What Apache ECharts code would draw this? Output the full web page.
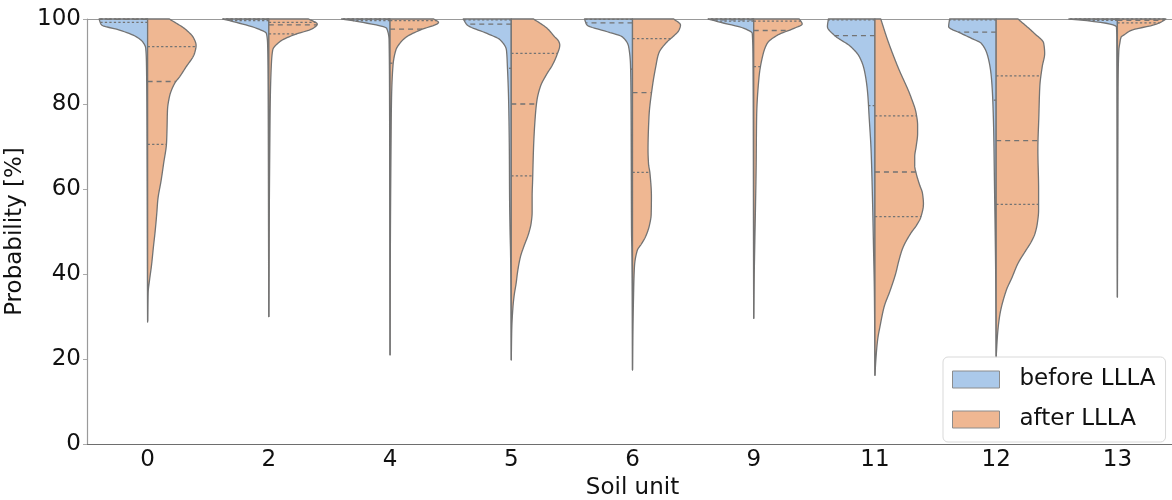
<!DOCTYPE html>
<html>
<head>
<meta charset="utf-8">
<script src="https://cdn.jsdelivr.net/npm/echarts@6/dist/echarts.min.js"></script>
<style>
  html, body { margin: 0; padding: 0; background: #fff; }
  #chart { width: 1172px; height: 500px; }
</style>
</head>
<body>
<div id="chart"></div>
<script>
// Soil units on the category axis
const soilUnits = ['0', '2', '4', '5', '6', '9', '11', '12', '13'];

// Kernel density outline of each half violin: [probability %, relative half-width]
// ordered from the top (100 %) down to the smallest observed probability.
const beforeDensity = [
  [[100,1.0],[99.3,0.98],[98.6,0.95],[97.4,0.58],[95.8,0.23],[94.6,0.10],[93.2,0.04],[90,0.025],[81,0.016],[70,0.012],[57,0.008],[45,0.005],[35,0.002],[29,0]],
  [[100,0.95],[99.2,0.67],[97.8,0.25],[96.6,0.05],[94,0.025],[85,0.015],[70,0.01],[50,0.006],[35,0.002],[30,0]],
  [[100,1.0],[99.2,0.56],[97.8,0.07],[95,0.02],[80,0.01],[60,0.006],[40,0.003],[21,0]],
  [[100,0.99],[98.6,0.91],[96.6,0.5],[95.1,0.23],[92.7,0.1],[88.8,0.08],[80.9,0.055],[69.2,0.04],[58.2,0.035],[50,0.025],[45,0.015],[35,0.006],[25,0.002],[19.8,0]],
  [[100,0.99],[98.6,0.94],[97,0.52],[95.8,0.21],[93.5,0.08],[88.8,0.04],[80,0.03],[65,0.025],[50,0.02],[45,0.012],[35,0.005],[25,0.002],[17.5,0]],
  [[100,0.94],[99.2,0.68],[97.8,0.2],[96.6,0.03],[90,0.015],[70,0.008],[50,0.005],[35,0.002],[29.6,0]],
  [[100,0.96],[98.2,0.98],[96.2,0.84],[93.5,0.5],[91.1,0.32],[88,0.22],[82.5,0.15],[77,0.12],[69.2,0.08],[57.4,0.05],[46.4,0.03],[36,0.012],[25,0.004],[16.2,0]],
  [[100,0.96],[98.2,0.98],[96.6,0.72],[95.4,0.5],[94.3,0.31],[91.1,0.17],[86.4,0.1],[80.9,0.07],[73.1,0.05],[61.3,0.035],[49.6,0.02],[40,0.01],[30,0.004],[20.5,0]],
  [[100,1.0],[99.6,0.63],[98.8,0.15],[98.2,0.02],[95,0.012],[80,0.008],[60,0.005],[45,0.003],[34.6,0]]
];

const afterDensity = [
  [[100,0.45],[97.4,0.8],[95.5,0.95],[93.8,1.0],[92,0.97],[88.5,0.78],[86.4,0.66],[84.9,0.56],[81.7,0.45],[78.6,0.41],[74,0.40],[70.8,0.39],[66,0.33],[62.1,0.28],[57.4,0.21],[54.4,0.19],[50,0.155],[46.4,0.12],[42,0.08],[38.6,0.04],[35.5,0.01],[28.7,0]],
  [[100,0.82],[98.8,1.0],[97.8,0.91],[96.2,0.5],[94.7,0.23],[92.7,0.08],[88.8,0.05],[80.9,0.03],[70,0.02],[55,0.01],[40,0.004],[30,0]],
  [[100,0.9],[99.2,1.0],[97.4,0.62],[95.8,0.34],[94.4,0.21],[92.7,0.12],[89,0.06],[81,0.03],[70,0.02],[50,0.008],[35,0.003],[21,0]],
  [[100,0.46],[97.8,0.74],[96,0.88],[94.7,0.98],[93.9,1.0],[91.5,0.94],[89,0.84],[87.2,0.74],[84.1,0.6],[80.9,0.53],[77.8,0.5],[70,0.46],[62,0.44],[58.2,0.43],[54.5,0.43],[52,0.41],[49.6,0.36],[46.5,0.26],[44.1,0.19],[40.5,0.13],[37.8,0.1],[35,0.06],[32.3,0.035],[27,0.01],[19.8,0]],
  [[100,0.85],[98.6,0.99],[97.4,0.96],[96,0.85],[94.7,0.72],[91.9,0.54],[88.8,0.48],[84.1,0.41],[77,0.34],[69.2,0.32],[66,0.33],[63.7,0.36],[58.2,0.39],[54,0.385],[51.5,0.35],[48.8,0.27],[47,0.18],[45.6,0.1],[41.7,0.04],[33.9,0.02],[25,0.006],[17.4,0]],
  [[100,0.94],[98.8,1.0],[97.8,0.83],[96.2,0.49],[94.3,0.28],[91.1,0.18],[86.4,0.11],[77,0.06],[65.3,0.05],[55,0.035],[46,0.02],[38,0.008],[29.6,0]],
  [[100,0.12],[95.1,0.26],[88.8,0.47],[81.7,0.74],[77.8,0.85],[75,0.88],[73.1,0.88],[70,0.85],[67.6,0.82],[65.5,0.82],[63.7,0.85],[61,0.92],[59,0.98],[56.5,1.0],[53.5,0.95],[51.5,0.86],[49.6,0.74],[46,0.57],[43,0.49],[40.2,0.43],[36,0.31],[32.3,0.19],[28,0.11],[24.5,0.055],[20,0.02],[16.2,0]],
  [[100,0.45],[96.6,0.79],[94.3,0.98],[91.9,1.0],[88.8,0.95],[84.1,0.9],[77,0.88],[69.2,0.86],[60,0.875],[55,0.875],[52,0.85],[49.5,0.8],[47.5,0.72],[45.5,0.61],[42.5,0.45],[39,0.32],[36.2,0.21],[30,0.07],[26,0.03],[20.5,0]],
  [[100,1.0],[99.2,0.89],[98.6,0.75],[97.8,0.44],[97.4,0.3],[96.2,0.13],[95.8,0.08],[94.3,0.05],[92.7,0.03],[85,0.015],[70,0.01],[50,0.005],[34.6,0]]
];

// Quartiles [Q1, median, Q3] of each half
const beforeQuartiles = [
  [99.2,99.9,100],[99.6,99.9,100],[99.6,99.9,100],[88.4,98.8,99.8],[88.2,99.1,99.9],
  [99.5,99.8,100],[79.6,96.1,99.8],[80.9,96.9,99.8],[99.7,99.9,100]
];
const afterQuartiles = [
  [70.5,85.3,93.5],[96.5,98.6,99.2],[89.6,97.6,99.6],[63.1,80,91.9],[63.9,82.7,95.4],
  [88.8,97.3,99.5],[53.5,64,77.2],[56.4,71.4,86.6],[99.1,99.7,100]
];

const seriesNames = ['before LLLA', 'after LLLA'];
const BLUE = '#abc9ea';
const ORANGE = '#efb792';
const EDGE = '#737373';
const FONT = 'DejaVu Sans';

// Monotone cubic (Fritsch-Carlson) interpolation of width against probability
function monotone(pairs) {
  const pts = pairs.slice().sort((a, b) => a[0] - b[0]);
  const xs = pts.map(p => p[0]), ys = pts.map(p => p[1]);
  const n = xs.length;
  const dx = [], m = [];
  for (let k = 0; k < n - 1; k++) {
    dx[k] = xs[k + 1] - xs[k];
    m[k] = (ys[k + 1] - ys[k]) / dx[k];
  }
  const t = new Array(n);
  t[0] = m[0];
  t[n - 1] = m[n - 2];
  for (let k = 1; k < n - 1; k++) {
    if (m[k - 1] * m[k] <= 0) t[k] = 0;
    else t[k] = 3 * (dx[k - 1] + dx[k]) /
      ((2 * dx[k] + dx[k - 1]) / m[k - 1] + (dx[k] + 2 * dx[k - 1]) / m[k]);
  }
  return function (x) {
    if (x <= xs[0]) return ys[0];
    if (x >= xs[n - 1]) return ys[n - 1];
    let k = 0;
    while (k < n - 2 && x > xs[k + 1]) k++;
    const h = dx[k], s = (x - xs[k]) / h;
    const s2 = s * s, s3 = s2 * s;
    const v = (2 * s3 - 3 * s2 + 1) * ys[k] + (s3 - 2 * s2 + s) * h * t[k] +
      (-2 * s3 + 3 * s2) * ys[k + 1] + (s3 - s2) * h * t[k + 1];
    return Math.max(0, v);
  };
}

// Draws one half violin (side -1 = left, +1 = right) with its quartile lines
function halfViolin(profiles, quartiles, side, fill) {
  return function (params, api) {
    const i = api.value(0);
    const prof = profiles[i];
    const f = monotone(prof);
    const vTop = prof[0][0];
    const vMin = prof[prof.length - 1][0];
    const bw = api.coord([1, 0])[0] - api.coord([0, 0])[0];
    const half = Math.abs(bw) * 0.4;
    const cx = api.coord([i, vTop])[0];
    const points = [[cx, api.coord([i, vTop])[1]]];
    for (let v = vTop; v > vMin; v -= 0.2) {
      points.push([cx + side * f(v) * half, api.coord([i, v])[1]]);
    }
    points.push([cx, api.coord([i, vMin])[1]]);
    const children = [{
      type: 'polygon',
      shape: { points: points },
      style: { fill: fill, stroke: EDGE, lineWidth: 1.3, lineJoin: 'round' }
    }];
    const q = quartiles[i];
    q.forEach((val, k) => {
      const y = api.coord([i, val])[1];
      children.push({
        type: 'line',
        shape: { x1: cx, y1: y, x2: cx + side * f(val) * half, y2: y },
        style: {
          stroke: EDGE, lineWidth: 1.3,
          lineDash: k === 1 ? [5, 4] : [2.3, 2.2]
        }
      });
    });
    return { type: 'group', children: children };
  };
}

const chart = echarts.init(document.getElementById('chart'), null, { renderer: 'canvas' });

chart.setOption({
  animation: false,
  backgroundColor: '#ffffff',
  textStyle: { fontFamily: FONT },
  grid: { left: 87, top: 19, width: 1091, height: 425, containLabel: false, outerBoundsMode: 'none' },
  legend: {
    left: 943, top: 357,
    orient: 'vertical',
    padding: [11, 10, 11, 9],
    itemWidth: 47, itemHeight: 17, itemGap: 17,
    backgroundColor: 'rgba(255,255,255,0.8)',
    borderColor: '#d9d9d9', borderWidth: 1, borderRadius: 5,
    textStyle: { fontFamily: FONT, fontSize: 23, color: '#111', padding: [0, 0, 0, 15] },
    data: [
      { name: seriesNames[0], icon: 'rect', itemStyle: { color: BLUE, borderColor: '#8c8c8c', borderWidth: 1 } },
      { name: seriesNames[1], icon: 'rect', itemStyle: { color: ORANGE, borderColor: '#8c8c8c', borderWidth: 1 } }
    ]
  },
  xAxis: [{
    type: 'category',
    data: soilUnits,
    position: 'bottom',
    boundaryGap: true,
    name: 'Soil unit',
    nameLocation: 'middle',
    nameGap: 29,
    nameTextStyle: { fontFamily: FONT, fontSize: 23, color: '#111' },
    axisLine: { lineStyle: { color: '#6e6e6e', width: 1.2 } },
    axisTick: { alignWithLabel: true, length: 4, lineStyle: { color: '#aaa' } },
    axisLabel: { margin: 5, fontFamily: FONT, fontSize: 23, color: '#111' },
    splitLine: { show: false }
  }, {
    type: 'category',
    data: soilUnits,
    position: 'top',
    axisLine: { lineStyle: { color: '#999', width: 1.2 } },
    axisTick: { show: false },
    axisLabel: { show: false },
    splitLine: { show: false }
  }],
  yAxis: {
    type: 'value',
    min: 0, max: 100, interval: 20,
    name: 'Probability [%]',
    nameLocation: 'middle',
    nameRotate: 90,
    nameGap: 53,
    nameTextStyle: { fontFamily: FONT, fontSize: 23, color: '#111' },
    axisLine: { show: true, lineStyle: { color: '#9a9a9a', width: 1.2 } },
    axisTick: { show: true, length: 4, lineStyle: { color: '#aaa' } },
    axisLabel: { margin: 6, fontFamily: FONT, fontSize: 23, color: '#111' },
    splitLine: { show: false }
  },
  series: [{
    type: 'custom',
    name: seriesNames[0],
    xAxisIndex: 0, yAxisIndex: 0,
    itemStyle: { color: BLUE },
    silent: true,
    encode: { x: 0, y: 1 },
    data: soilUnits.map((u, i) => [i, 100]),
    renderItem: halfViolin(beforeDensity, beforeQuartiles, -1, BLUE)
  }, {
    type: 'custom',
    name: seriesNames[1],
    xAxisIndex: 0, yAxisIndex: 0,
    itemStyle: { color: ORANGE },
    silent: true,
    encode: { x: 0, y: 1 },
    data: soilUnits.map((u, i) => [i, 100]),
    renderItem: halfViolin(afterDensity, afterQuartiles, 1, ORANGE)
  }]
});
</script>
</body>
</html>
